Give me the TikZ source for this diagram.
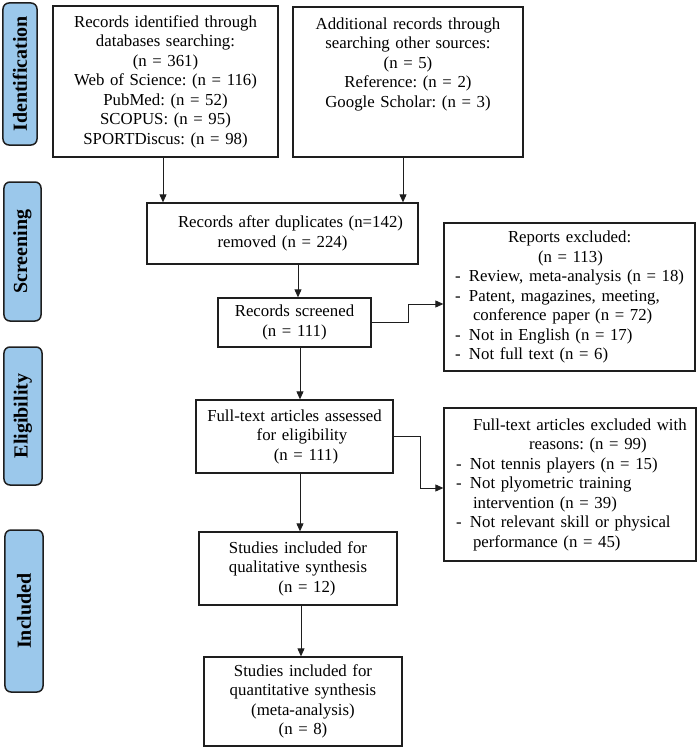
\documentclass[tikz,border=0pt]{standalone}
\usepackage{fontspec}
\setmainfont{Liberation Serif}
\usetikzlibrary{arrows.meta,calc}
\definecolor{stageblue}{RGB}{155,200,235}
\definecolor{lineblack}{RGB}{30,30,30}
\newcommand{\dashrow}[1]{\mbox{\makebox[14bp][l]{-}#1}}
\frenchspacing
\begin{document}
\begin{tikzpicture}[x=1bp,y=-1bp,
  every node/.style={font=\fontsize{16.8bp}{19.5bp}\selectfont},
  box/.style={draw=lineblack, line width=1.3bp, inner xsep=0pt, inner ysep=0pt, align=center},
  listbox/.style={draw=lineblack, line width=1.3bp, inner ysep=0pt, align=left},
  stage/.style={draw=lineblack, fill=stageblue, line width=1.5bp, rounded corners=6bp, rotate=90,
    inner sep=0pt, font=\fontsize{20bp}{22bp}\selectfont\bfseries},
  arr/.style={draw=lineblack, line width=0.9bp, -{Triangle[length=8bp,width=7bp]}}]
\useasboundingbox (0,0) rectangle (699,748);

% stage labels
\node[stage, minimum width=142bp, minimum height=34bp] (sid) at (20,74) {Identification};
\node[stage, minimum width=139bp, minimum height=37bp] (sscr) at (22.5,251.5) {Screening};
\node[stage, minimum width=138bp, minimum height=38bp] (selig) at (23,416) {Eligibility};
\node[stage, minimum width=162bp, minimum height=38bp] (sinc) at (24,611) {Included};

% main boxes
\node[box, text width=225bp, minimum height=151bp] (b1) at (165.5,81.5)
  {Records identified through\\ databases searching:\\ (n = 361)\\ Web of Science: (n = 116)\\ PubMed: (n = 52)\\ SCOPUS: (n = 95)\\ SPORTDiscus: (n = 98)};
\node[box, text width=230bp, minimum height=150bp] (b2) at (408,82)
  {Additional records through\\ searching other sources:\\ (n = 5)\\ Reference: (n = 2)\\ Google Scholar: (n = 3)\\ \mbox{}\\ \mbox{}};
\node[box, text width=271bp, minimum height=61bp] (b3) at (282.5,233.5)
  {\hspace*{16bp}Records after duplicates (n=142)\\ removed (n = 224)};
\node[box, text width=153bp, minimum height=49bp] (b4) at (294.5,322.5)
  {Records screened\\ (n = 111)};
\node[listbox, inner xsep=11bp, text width=229bp, minimum height=148bp] (b5) at (569.5,297)
  {\hspace*{53bp}Reports excluded:\\
   \hspace*{83bp}(n = 113)\\
   \dashrow{Review, meta-analysis (n = 18)}\\
   \dashrow{Patent, magazines, meeting,}\\
   \mbox{\hspace*{18bp}conference paper (n = 72)}\\
   \dashrow{Not in English (n = 17)}\\
   \dashrow{Not full text (n = 6)}};
\node[box, text width=197bp, minimum height=73bp] (b6) at (294.5,436.5)
  {Full-text articles assessed\\ \hspace*{15bp}for eligibility\\ \hspace*{23bp}(n = 111)};
\node[listbox, inner xsep=12bp, text width=228bp, minimum height=153bp] (b7) at (570,484.5)
  {\mbox{\hspace*{17bp}Full-text articles excluded with}\\
   \hspace*{73bp}reasons: (n = 99)\\
   \dashrow{Not tennis players (n = 15)}\\
   \dashrow{Not plyometric training}\\
   \mbox{\hspace*{17bp}intervention (n = 39)}\\
   \dashrow{Not relevant skill or physical}\\
   \mbox{\hspace*{17bp}performance (n = 45)}};
\node[box, text width=198bp, minimum height=73bp] (b8) at (298,568.5)
  {Studies included for\\ qualitative synthesis\\ \hspace*{18bp}(n = 12)};
\node[box, text width=198bp, minimum height=89bp] (b9) at (303,701.5)
  {Studies included for\\ quantitative synthesis\\ (meta-analysis)\\ (n = 8)};

% connectors
\draw[arr] ([xshift=-2.5bp]b1.south) -- ([xshift=-2.5bp]b1.south |- b3.north);
\draw[arr] ([xshift=-5bp]b2.south) -- ([xshift=-5bp]b2.south |- b3.north);
\draw[arr] ([xshift=3.5bp]b4.north |- b3.south) -- ([xshift=3.5bp]b4.north);
\draw[arr] ([xshift=5.5bp]b4.south) -- ([xshift=5.5bp]b4.south |- b6.north);
\draw[arr] ([xshift=5.5bp]b6.south) -- ([xshift=5.5bp]b6.south |- b8.north);
\draw[arr] ([xshift=3bp]b8.south) -- ([xshift=3bp]b8.south |- b9.north);
\draw[arr] (b4.east) -- ++(37,0) |- ([yshift=-7bp]b5.west);
\draw[arr] (b6.east) -- ++(27,0) |- ([yshift=-3.5bp]b7.west);
\end{tikzpicture}
\end{document}
